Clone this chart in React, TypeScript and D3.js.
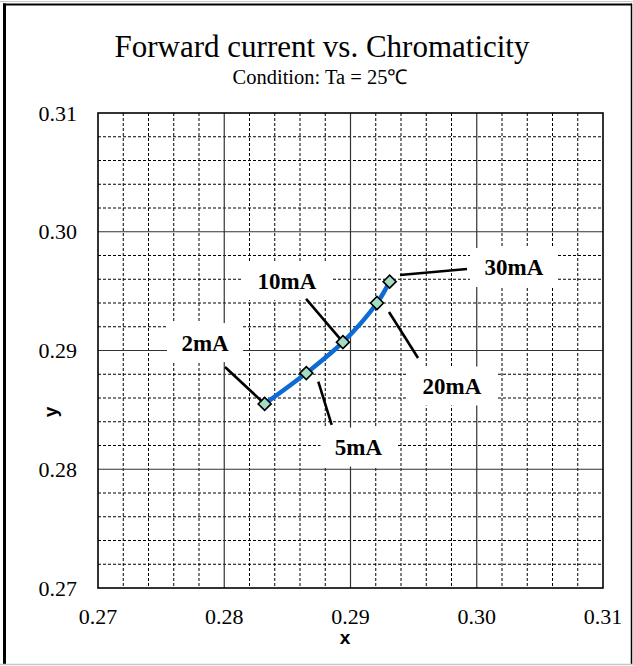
import React from "react";
import * as d3 from "d3";

const currents = ["2mA", "5mA", "10mA", "20mA", "30mA"];
const cieX = [0.2832, 0.2865, 0.2894, 0.2921, 0.2931];
const cieY = [0.2855, 0.2881, 0.2907, 0.294, 0.2958];

const xTicks = [0.27, 0.28, 0.29, 0.3, 0.31];
const yTicks = [0.27, 0.28, 0.29, 0.3, 0.31];
const xTickLabels = ["0.27", "0.28", "0.29", "0.30", "0.31"];
const yTickLabels = ["0.27", "0.28", "0.29", "0.30", "0.31"];

// annotation label centres and leader lines, in data units
const labelCx = [0.27848, 0.29063, 0.28497, 0.29804, 0.30295];
const labelCy = [0.29067, 0.28187, 0.29589, 0.28701, 0.29699];
const leadFromX = [0.28006, 0.28745, 0.28648, 0.29305, 0.29392];
const leadFromY = [0.28861, 0.28737, 0.29434, 0.29324, 0.29636];
const leadToX = [0.2832, 0.28851, 0.2894, 0.29535, 0.29923];
const leadToY = [0.2855, 0.28373, 0.2907, 0.28937, 0.29686];

const W = 633;
const H = 666;
const L = 98, R = 603, T = 113, B = 588;

export default function App() {
  const x = d3.scaleLinear().domain([0.27, 0.31]).range([L, R]);
  const y = d3.scaleLinear().domain([0.27, 0.31]).range([B, T]);
  const minorX = d3.range(0, 21).map((i) => 0.27 + i * 0.002).filter((_, i) => i % 5 !== 0);
  const minorY = d3.range(0, 21).map((i) => 0.27 + i * 0.002).filter((_, i) => i % 5 !== 0);
  const pts = cieX.map((v, i) => [x(v), y(cieY[i])] as [number, number]);
  const line = d3.line().curve(d3.curveCatmullRom.alpha(0.5))(pts) || "";
  const serif = "'Liberation Serif', 'Times New Roman', serif";
  const sans = "'Liberation Sans', Arial, sans-serif";
  const ms = 6.5;
  return (
    <svg width={W} height={H} style={{ position: "fixed", left: 0, top: 0, background: "#fff" }}>
      <rect x={0} y={0} width={W} height={H} fill="#fff" />
      {/* outer frame */}
      <line x1={0} y1={1.5} x2={W} y2={1.5} stroke="#c8c8c8" strokeWidth={1} />
      <line x1={3} y1={4.5} x2={632} y2={4.5} stroke="#000" strokeWidth={2} />
      <line x1={4.5} y1={3.5} x2={4.5} y2={664} stroke="#000" strokeWidth={3} />
      <line x1={631.5} y1={3.5} x2={631.5} y2={664} stroke="#000" strokeWidth={1.5} />
      <line x1={0} y1={664.5} x2={W} y2={664.5} stroke="#c8c8c8" strokeWidth={1.5} />

      {/* titles */}
      <text x={322} y={57} textAnchor="middle" fontFamily={serif} fontSize={31}>
        Forward current vs. Chromaticity
      </text>
      <text x={320} y={84} textAnchor="middle" fontFamily={serif} fontSize={20.5}>
        Condition: Ta = 25℃
      </text>

      {/* grid */}
      {minorX.map((v, i) => (
        <line key={"mx" + i} x1={x(v)} x2={x(v)} y1={T} y2={B} stroke="#000" strokeWidth={1} strokeDasharray="3,2" />
      ))}
      {minorY.map((v, i) => (
        <line key={"my" + i} x1={L} x2={R} y1={y(v)} y2={y(v)} stroke="#000" strokeWidth={1} strokeDasharray="3,2" />
      ))}
      {xTicks.slice(1, -1).map((v, i) => (
        <line key={"Mx" + i} x1={x(v)} x2={x(v)} y1={T} y2={B} stroke="#333" strokeWidth={1.2} />
      ))}
      {yTicks.slice(1, -1).map((v, i) => (
        <line key={"My" + i} x1={L} x2={R} y1={y(v)} y2={y(v)} stroke="#333" strokeWidth={1.2} />
      ))}
      <rect x={L} y={T} width={R - L} height={B - T} fill="none" stroke="#000" strokeWidth={1.6} />

      {/* tick labels */}
      {xTicks.map((v, i) => (
        <text key={"xt" + i} x={x(v)} y={624} textAnchor="middle" fontFamily={serif} fontSize={22}>
          {xTickLabels[i]}
        </text>
      ))}
      {yTicks.map((v, i) => (
        <text key={"yt" + i} x={77} y={y(v) + 7.5} textAnchor="end" fontFamily={serif} fontSize={22}>
          {yTickLabels[i]}
        </text>
      ))}
      <text x={345} y={644} textAnchor="middle" fontFamily={sans} fontWeight="bold" fontSize={19}>
        x
      </text>
      <text
        transform={`translate(57,412) rotate(-90)`}
        textAnchor="middle"
        fontFamily={sans}
        fontWeight="bold"
        fontSize={19}
      >
        y
      </text>

      {/* annotation boxes and leaders */}
      {currents.map((c, i) => {
        const bw = c.length === 3 ? 76 : 88;
        const bh = 39;
        return (
          <g key={"lab" + i}>
            <rect x={x(labelCx[i]) - bw / 2} y={y(labelCy[i]) - bh / 2} width={bw} height={bh} fill="#fff" />
            <line
              x1={x(leadFromX[i])}
              y1={y(leadFromY[i])}
              x2={x(leadToX[i])}
              y2={y(leadToY[i])}
              stroke="#000"
              strokeWidth={2.6}
            />
          </g>
        );
      })}

      {/* series */}
      <path d={line} fill="none" stroke="#0f6bd4" strokeWidth={4.5} strokeLinecap="round" />
      {pts.map((p, i) => (
        <path
          key={"m" + i}
          d={`M${p[0]},${p[1] - ms}L${p[0] + ms},${p[1]}L${p[0]},${p[1] + ms}L${p[0] - ms},${p[1]}Z`}
          fill="#a3dcc3"
          stroke="#000"
          strokeWidth={1.6}
        />
      ))}

      {currents.map((c, i) => (
        <text
          key={"lt" + i}
          x={x(labelCx[i])}
          y={y(labelCy[i]) + 8}
          textAnchor="middle"
          fontFamily={serif}
          fontWeight="bold"
          fontSize={23}
        >
          {c}
        </text>
      ))}
    </svg>
  );
}
